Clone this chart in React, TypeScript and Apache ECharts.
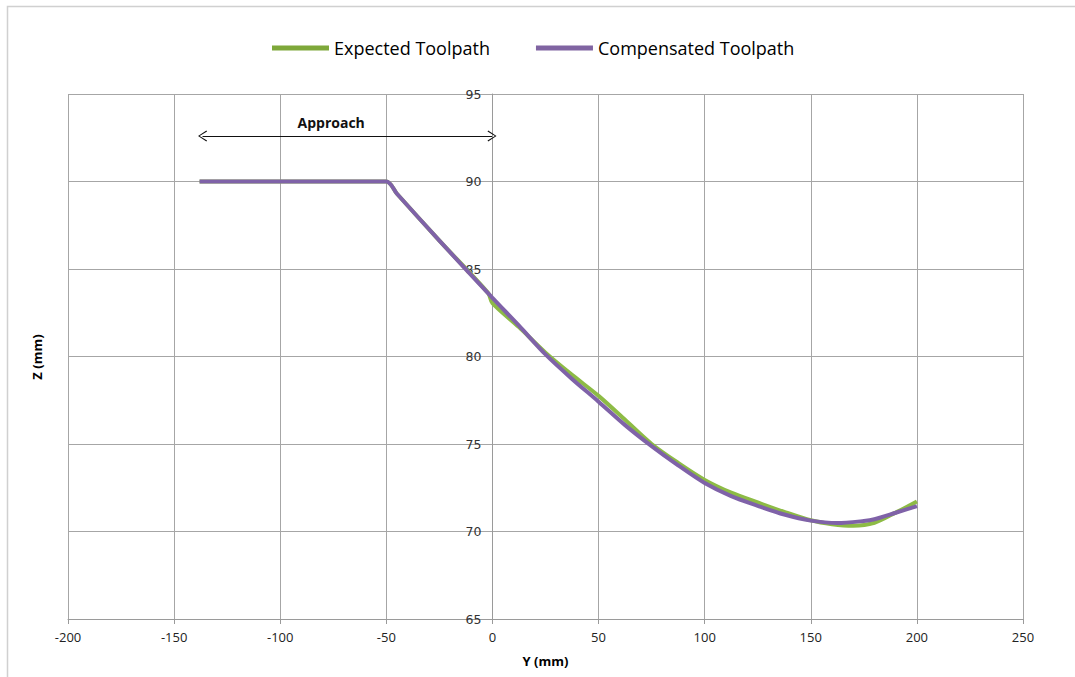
import React, { useEffect, useRef } from "react";
import * as echarts from "echarts";

const compY = [-138, -50, -45, -25, 0, 12.5, 25, 37.5, 50, 62.5, 75, 87.5, 100, 112.5, 125, 137.5, 150, 162.5, 175, 180, 190, 200];
const compZ = [90, 90, 89.3, 86.62, 83.35, 81.76, 80.12, 78.72, 77.42, 76.08, 74.88, 73.78, 72.77, 72.02, 71.47, 70.97, 70.62, 70.48, 70.6, 70.7, 71.07, 71.45];

const expY = [-138, -50, -45, -25, -2, 0, 12.5, 25, 37.5, 50, 62.5, 75, 87.5, 100, 112.5, 125, 137.5, 150, 160, 170, 180, 190, 200];
const expZ = [90, 90, 89.3, 86.62, 83.62, 83.05, 81.68, 80.22, 78.95, 77.75, 76.38, 75.0, 73.92, 72.95, 72.22, 71.66, 71.12, 70.64, 70.42, 70.33, 70.5, 71.08, 71.72];

const seriesNames = ["Expected Toolpath", "Compensated Toolpath"];
const approachLabel = "Approach";
const approachFrom: [number, number] = [-136.6, 92.6];
const approachTo: [number, number] = [-0.2, 92.6];
const approachLabelAt: [number, number] = [-76, 93.4];

const zip = (a: number[], b: number[]) => a.map((v, i) => [v, b[i]]);

const chevron = "path://M6,0 L12,10 L10.9,10.8 L6,1.9 L1.1,10.8 L0,10 Z";

export default function App() {
  const ref = useRef<HTMLDivElement>(null);
  useEffect(() => {
    if (!ref.current) return;
    const chart = echarts.init(ref.current, null, { renderer: "svg" });
    const sans = "'Open Sans', sans-serif";
    chart.setOption({
      animation: false,
      backgroundColor: "#fff",
      graphic: [
        {
          type: "rect",
          shape: { x: 7.5, y: 6.5, width: 1100, height: 700 },
          style: { fill: "none", stroke: "#d0d0d0", lineWidth: 1.5 },
          silent: true,
          z: -1,
        },
        {
          type: "text",
          x: 37,
          y: 357,
          rotation: Math.PI / 2,
          style: {
            text: "Z (mm)",
            fontFamily: sans,
            fontSize: 13,
            fontWeight: "bold",
            fill: "#000",
            align: "center",
            verticalAlign: "middle",
          },
          silent: true,
        },
      ],
      legend: {
        top: 34,
        left: 267,
        itemWidth: 57,
        itemHeight: 5,
        itemGap: 46,
        icon: "rect",
        textStyle: { fontFamily: sans, fontSize: 18, color: "#000" },
        data: seriesNames,
      },
      grid: { left: 68, right: 52, top: 94, bottom: 58, containLabel: false },
      xAxis: {
        type: "value",
        min: -200,
        max: 250,
        interval: 50,
        name: "Y (mm)",
        nameLocation: "middle",
        nameGap: 35,
        nameTextStyle: { fontFamily: sans, fontSize: 13, fontWeight: "bold", color: "#000" },
        axisLine: { onZero: false, lineStyle: { color: "#9a9a9a" } },
        axisTick: { show: true, length: 5, lineStyle: { color: "#9a9a9a" } },
        axisLabel: { fontFamily: sans, fontSize: 13, color: "#222", margin: 11 },
        splitLine: { show: true, lineStyle: { color: "#a6a6a6", width: 1 } },
      },
      yAxis: {
        type: "value",
        min: 65,
        max: 95,
        interval: 5,
        offset: -424.4,
        axisLine: { show: true, onZero: false, lineStyle: { color: "#9a9a9a" } },
        axisTick: { show: false },
        axisLabel: { fontFamily: "'DejaVu Sans', sans-serif", fontSize: 12.5, color: "#333", margin: 11 },
        splitLine: { show: true, lineStyle: { color: "#a6a6a6", width: 1 } },
      },
      series: [
        {
          name: seriesNames[0],
          type: "line",
          data: zip(expY, expZ),
          smooth: 0.3,
          showSymbol: false,
          symbol: "none",
          color: "#7ea83a",
          lineStyle: { color: "#8dbb45", width: 4 },
          z: 2,
        },
        {
          name: seriesNames[1],
          type: "line",
          data: zip(compY, compZ),
          smooth: 0.3,
          showSymbol: false,
          symbol: "none",
          color: "#8064a2",
          lineStyle: { color: "#7f62a8", width: 4 },
          z: 3,
          markLine: {
            silent: true,
            symbol: [chevron, chevron],
            symbolSize: [11, 9],
            lineStyle: { color: "#111", type: "solid", width: 1.2 },
            itemStyle: { color: "#111" },
            label: { show: false },
            data: [[{ coord: approachFrom }, { coord: approachTo }]],
          },
          markPoint: {
            silent: true,
            symbol: "rect",
            symbolSize: 1,
            itemStyle: { color: "rgba(0,0,0,0)" },
            label: {
              show: true,
              position: "inside",
              formatter: approachLabel,
              fontFamily: sans,
              fontWeight: "bold",
              fontSize: 14,
              color: "#111",
            },
            data: [{ coord: approachLabelAt }],
          },
        },
      ],
    });
    return () => chart.dispose();
  }, []);
  return (
    <div
      ref={ref}
      style={{ position: "fixed", left: 0, top: 0, width: 1075, height: 677 }}
    />
  );
}
